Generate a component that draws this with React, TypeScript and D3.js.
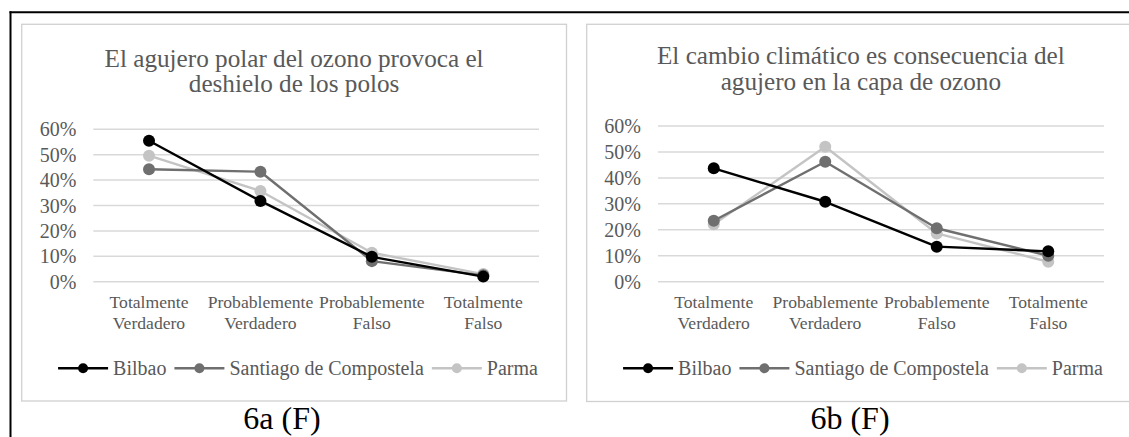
import { useEffect, useRef } from 'react';
import * as d3 from 'd3';

const categories = [
  ['Totalmente', 'Verdadero'],
  ['Probablemente', 'Verdadero'],
  ['Probablemente', 'Falso'],
  ['Totalmente', 'Falso'],
];
const seriesNames = ['Bilbao', 'Santiago de Compostela', 'Parma'];
const seriesColors = ['#000000', '#6f6f6f', '#c4c4c4'];
const yTicks = [0, 0.1, 0.2, 0.3, 0.4, 0.5, 0.6];

// 6a: El agujero polar del ozono provoca el deshielo de los polos
const bilbao6a = [0.555, 0.318, 0.098, 0.02];
const santiago6a = [0.443, 0.433, 0.081, 0.025];
const parma6a = [0.496, 0.357, 0.114, 0.03];

// 6b: El cambio climático es consecuencia del agujero en la capa de ozono
const bilbao6b = [0.437, 0.308, 0.135, 0.117];
const santiago6b = [0.235, 0.462, 0.206, 0.1];
const parma6b = [0.221, 0.52, 0.186, 0.077];

const panels = [
  {
    title: ['El agujero polar del ozono provoca el', 'deshielo de los polos'],
    caption: '6a (F)',
    series: [bilbao6a, santiago6a, parma6a],
    frame: { x0: 21.7, x1: 566.5, y0: 24.3, y1: 401 },
    plot: { x0: 93.3, x1: 539, y0: 129.3, y1: 281.7 },
    titleY: 66.7,
    legendCx: 298,
    captionCx: 282,
  },
  {
    title: ['El cambio climático es consecuencia del', 'agujero en la capa de ozono'],
    caption: '6b (F)',
    series: [bilbao6b, santiago6b, parma6b],
    frame: { x0: 586.7, x1: 1135, y0: 24.3, y1: 401.5 },
    plot: { x0: 658, x1: 1104, y0: 126, y1: 281.7 },
    titleY: 64,
    legendCx: 863,
    captionCx: 850,
  },
];

const W = 1129;
const H = 437;
const FONT = '"Liberation Serif", "Times New Roman", serif';
const TEXT = '#595959';

export default function App() {
  const svgRef = useRef<SVGSVGElement | null>(null);

  useEffect(() => {
    if (!svgRef.current) return;
    const svg = d3.select(svgRef.current);
    svg.selectAll('*').remove();
    svg.attr('width', W).attr('height', H).style('font-family', FONT);

    svg.append('rect').attr('width', W).attr('height', H).attr('fill', '#fff');

    // outer black border (top + left)
    svg.append('line').attr('x1', 9.5).attr('x2', W).attr('y1', 12.3).attr('y2', 12.3)
      .attr('stroke', '#000').attr('stroke-width', 2);
    svg.append('line').attr('x1', 10.5).attr('x2', 10.5).attr('y1', 11.3).attr('y2', H)
      .attr('stroke', '#000').attr('stroke-width', 2);

    panels.forEach((p) => {
      const g = svg.append('g');
      const f = p.frame;
      g.append('rect')
        .attr('x', f.x0).attr('y', f.y0)
        .attr('width', f.x1 - f.x0).attr('height', f.y1 - f.y0)
        .attr('fill', '#fff').attr('stroke', '#d0d0d0').attr('stroke-width', 1.3);

      const cx = (f.x0 + f.x1) / 2;
      // title
      p.title.forEach((t, i) => {
        g.append('text')
          .attr('x', cx).attr('y', p.titleY + i * 25.5)
          .attr('text-anchor', 'middle')
          .attr('font-size', 25.2)
          .attr('fill', TEXT)
          .text(t);
      });

      const x = d3.scalePoint<number>()
        .domain(categories.map((_, i) => i))
        .range([p.plot.x0, p.plot.x1])
        .padding(0.5);
      const y = d3.scaleLinear().domain([0, 0.6]).range([p.plot.y1, p.plot.y0]);

      // grid
      g.selectAll('.grid')
        .data(yTicks)
        .enter()
        .append('line')
        .attr('x1', p.plot.x0).attr('x2', p.plot.x1)
        .attr('y1', (d) => y(d)).attr('y2', (d) => y(d))
        .attr('stroke', '#d9d9d9').attr('stroke-width', 1.5);

      // y tick labels
      g.selectAll('.ytick')
        .data(yTicks)
        .enter()
        .append('text')
        .attr('x', p.plot.x0 - 17)
        .attr('y', (d) => y(d) + 7)
        .attr('text-anchor', 'end')
        .attr('font-size', 20)
        .attr('fill', TEXT)
        .text((d) => d3.format('.0%')(d));

      // x labels
      categories.forEach((lines, i) => {
        lines.forEach((l, j) => {
          g.append('text')
            .attr('x', x(i) ?? 0)
            .attr('y', 308.3 + j * 21)
            .attr('text-anchor', 'middle')
            .attr('font-size', 17.6)
            .attr('fill', TEXT)
            .text(l);
        });
      });

      // lines + markers (draw Parma first so Bilbao sits on top)
      const line = d3.line<number>()
        .x((_, i) => x(i) ?? 0)
        .y((d) => y(d));
      const order = [2, 1, 0];
      order.forEach((si) => {
        const vals = p.series[si];
        g.append('path')
          .datum(vals)
          .attr('fill', 'none')
          .attr('stroke', seriesColors[si])
          .attr('stroke-width', 2.4)
          .attr('stroke-linejoin', 'round')
          .attr('d', line);
        g.selectAll(`.dot${si}`)
          .data(vals)
          .enter()
          .append('circle')
          .attr('cx', (_, i) => x(i) ?? 0)
          .attr('cy', (d) => y(d))
          .attr('r', 6)
          .attr('fill', seriesColors[si]);
      });

      // legend
      const lg = g.append('g');
      let lx = 0;
      const ly = 368.3;
      seriesNames.forEach((name, si) => {
        lg.append('line')
          .attr('x1', lx).attr('x2', lx + 50)
          .attr('y1', ly).attr('y2', ly)
          .attr('stroke', seriesColors[si]).attr('stroke-width', 2.4);
        lg.append('circle')
          .attr('cx', lx + 25).attr('cy', ly).attr('r', 5)
          .attr('fill', seriesColors[si]);
        const t = lg.append('text')
          .attr('x', lx + 55).attr('y', ly + 6.5)
          .attr('font-size', 20)
          .attr('fill', TEXT)
          .text(name);
        const tw = (t.node() as SVGTextElement).getComputedTextLength();
        lx += 55 + tw + 8;
      });
      const totalW = lx - 8;
      lg.attr('transform', `translate(${p.legendCx - totalW / 2},0)`);

      // caption below the frame
      svg.append('text')
        .attr('x', p.captionCx).attr('y', 428.5)
        .attr('text-anchor', 'middle')
        .attr('font-size', 32)
        .attr('fill', '#000')
        .text(p.caption);
    });
  }, []);

  return (
    <div style={{ position: 'absolute', left: 0, top: 0 }}>
      <svg ref={svgRef} style={{ display: 'block' }} />
    </div>
  );
}
